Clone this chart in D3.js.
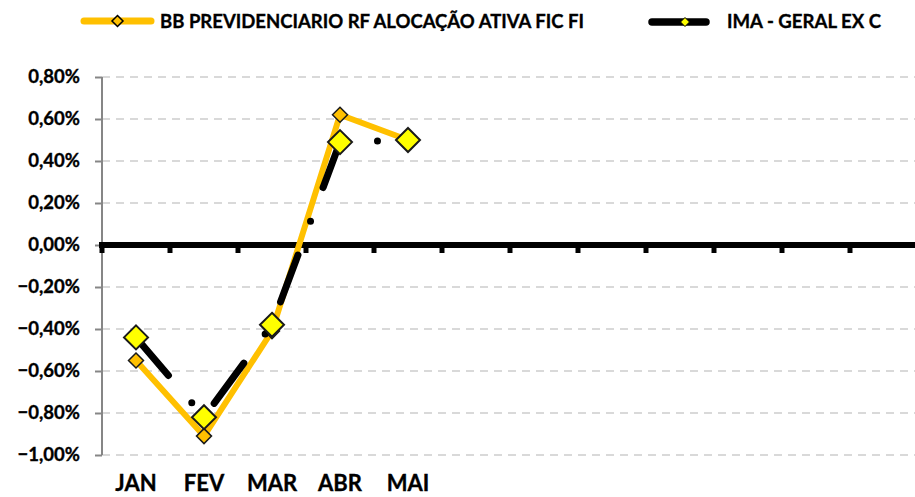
<!DOCTYPE html>
<html><head><meta charset="utf-8">
<script src="https://cdn.jsdelivr.net/npm/d3@7"></script>
<style>body{margin:0;background:#fff}svg{display:block}text{font-family:Lato,"Open Sans",sans-serif;font-weight:bold;fill:#000;stroke:#000;stroke-width:0.35px}</style>
</head><body><svg id="c" width="915" height="497"></svg>
<script>
const months = ["JAN","FEV","MAR","ABR","MAI","","","","","","",""];
const monthKeys = d3.range(12).map(String);
const bbValues = [-0.55, -0.91, -0.41, 0.62, 0.50];
const imaValues = [-0.44, -0.82, -0.38, 0.49, 0.50];
const yTicks = [0.8,0.6,0.4,0.2,0,-0.2,-0.4,-0.6,-0.8,-1.0];
const seriesNames = ["BB PREVIDENCIARIO RF ALOCAÇÃO ATIVA FIC FI","IMA - GERAL EX C"];

const svg = d3.select("#c");
const x = d3.scaleBand().domain(monthKeys).range([102, 918]).padding(0);
const y = d3.scaleLinear().domain([-1.0, 0.8]).range([455, 77]);
const fmt = v => d3.format(".2f")(v).replace(".", ",") + "%";

// gridlines
svg.append("g").selectAll("line").data(yTicks.filter(v=>v!==0)).join("line")
  .attr("x1",102).attr("x2",915).attr("y1",d=>y(d)).attr("y2",d=>y(d))
  .attr("stroke","#d9d9d9").attr("stroke-width",2).attr("stroke-dasharray","8 6");

// y axis
const yAxis = d3.axisLeft(y).tickValues(yTicks).tickSize(7).tickFormat(fmt).tickPadding(15);
const ya = svg.append("g").attr("transform","translate(102,0)").call(yAxis);
ya.select(".domain").attr("stroke","#868686").attr("stroke-width",2).attr("d","M0,77V455");
ya.selectAll(".tick line").attr("stroke","#868686").attr("stroke-width",2);
ya.selectAll(".tick text").attr("font-size",18.5).attr("font-family","Lato").attr("font-weight","bold").attr("fill","#000");

// zero line
svg.append("line").attr("x1",99).attr("x2",915).attr("y1",y(0)).attr("y2",y(0))
  .attr("stroke","#000").attr("stroke-width",6);
const xAxis = d3.axisBottom(x).tickSize(0).tickFormat("");
const za = svg.append("g").attr("transform",`translate(0,${y(0)})`).call(xAxis);
za.select(".domain").remove();
const edges = monthKeys.map(k=>x(k)).concat([x(monthKeys[11])+x.bandwidth()]);
svg.append("g").selectAll("line").data(edges).join("line")
  .attr("x1",d=>d).attr("x2",d=>d).attr("y1",y(0)).attr("y2",y(0)+8)
  .attr("stroke","#000").attr("stroke-width",5);

// category labels
svg.append("g").selectAll("text").data(months.map((m,i)=>({m,k:monthKeys[i]})).filter(d=>d.m)).join("text")
  .attr("x",d=>x(d.k)+x.bandwidth()/2).attr("y",491).attr("text-anchor","middle")
  .attr("font-size",22).text(d=>d.m);

const cx = i => x(monthKeys[i]) + x.bandwidth()/2;
const line = d3.line().x((d,i)=>cx(i)).y(d=>y(d));
const diamond = (s) => `M0,${-s}L${s},0L0,${s}L${-s},0Z`;

// BB line
svg.append("path").datum(bbValues).attr("d",line).attr("fill","none")
  .attr("stroke","#FFC000").attr("stroke-width",6).attr("stroke-linejoin","round");
svg.append("g").selectAll("path").data(bbValues).join("path")
  .attr("transform",(d,i)=>`translate(${cx(i)},${y(d)})`).attr("d",diamond(7.5))
  .attr("fill","#FFC000").attr("stroke","#1a1a1a").attr("stroke-width",1.5);

// IMA line
svg.append("path").datum(imaValues).attr("d",line).attr("fill","none")
  .attr("stroke","#000").attr("stroke-width",7).attr("stroke-linecap","round")
  .attr("stroke-linejoin","round").attr("stroke-dasharray","50 36 0 36");
svg.append("g").selectAll("path").data(imaValues).join("path")
  .attr("transform",(d,i)=>`translate(${cx(i)},${y(d)})`).attr("d",diamond(12))
  .attr("fill","#FFFF00").attr("stroke","#1a1a1a").attr("stroke-width",2);

// legend
const lg = svg.append("g");
lg.append("line").attr("x1",84).attr("x2",151).attr("y1",21).attr("y2",21)
  .attr("stroke","#FFC000").attr("stroke-width",7).attr("stroke-linecap","round");
lg.append("path").attr("transform","translate(117.5,21)").attr("d",diamond(5.5))
  .attr("fill","#FFC000").attr("stroke","#000").attr("stroke-width",1.5);
lg.append("text").attr("x",160).attr("y",28).attr("font-size",19.5)
  .attr("textLength",424).attr("lengthAdjust","spacingAndGlyphs").text(seriesNames[0]);
lg.append("line").attr("x1",652).attr("x2",706).attr("y1",22).attr("y2",22)
  .attr("stroke","#000").attr("stroke-width",7.5).attr("stroke-linecap","round");
lg.append("path").attr("transform","translate(685,22)").attr("d",diamond(4.5))
  .attr("fill","#FFFF00").attr("stroke","#000").attr("stroke-width",1);
lg.append("text").attr("x",727).attr("y",28).attr("font-size",19.5)
  .attr("textLength",154).attr("lengthAdjust","spacingAndGlyphs").text(seriesNames[1]);
</script></body></html>
